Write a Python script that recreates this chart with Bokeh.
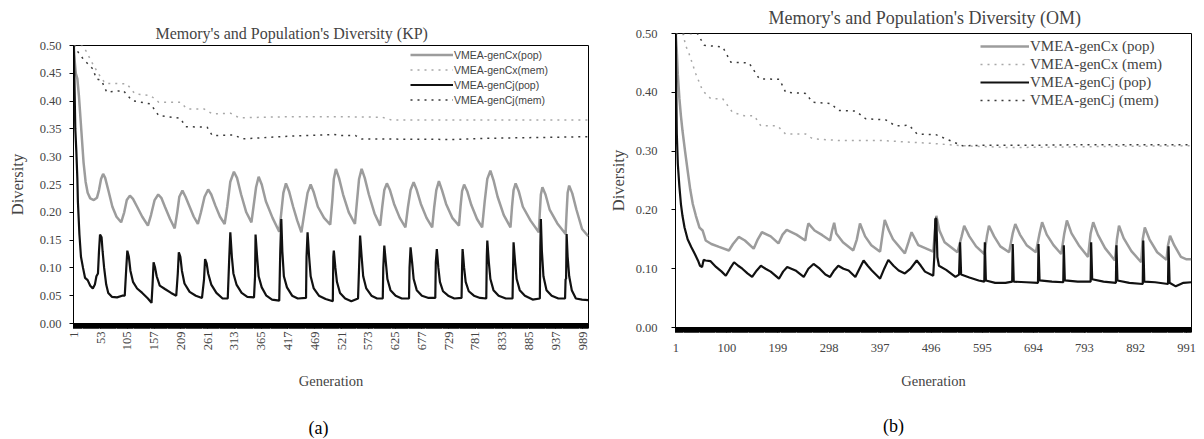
from bokeh.plotting import figure
from bokeh.layouts import row, column
from bokeh.models import Range1d, FixedTicker, NumeralTickFormatter, Legend, LegendItem, Label
from bokeh.embed import file_html
from bokeh.resources import INLINE

# ---------------- Panel (a): KP ----------------
a_title = "Memory's and Population's Diversity (KP)"
a_xticks = [1, 53, 105, 157, 209, 261, 313, 365, 417, 469, 521, 573, 625, 677, 729, 781, 833, 885, 937, 989]
a_yticks = [0.0, 0.05, 0.10, 0.15, 0.20, 0.25, 0.30, 0.35, 0.40, 0.45, 0.50]

a_cx_pop_gen = [1, 3, 5, 8, 11, 14, 17, 20, 24, 28, 33, 40, 46, 50, 54, 58, 62, 68, 76, 84, 93,
                99, 104, 110, 116, 124, 134, 145,
                151, 158, 165, 171, 178, 188, 197,
                202, 206, 212, 218, 226, 234, 242,
                248, 255, 262, 268, 276, 285, 294,
                299, 305, 312, 318, 326, 336, 346,
                350, 355, 360, 366, 374, 387, 400,
                404, 408, 413, 419, 427, 435, 443,
                449, 455, 461, 467, 475, 487, 499,
                503, 506, 510, 516, 524, 535, 547,
                551, 555, 560, 566, 574, 585, 596,
                600, 604, 609, 615, 623, 634, 645,
                650, 655, 661, 667, 675, 686, 697,
                701, 705, 710, 716, 724, 736, 749,
                752, 755, 759, 765, 773, 784, 794,
                799, 804, 810, 816, 824, 836, 849,
                852, 855, 859, 865, 873, 888, 904,
                906, 908, 911, 917, 925, 940, 956,
                958, 960, 963, 969, 977, 988, 1000]
a_cx_pop = [0.50, 0.47, 0.45, 0.44, 0.41, 0.37, 0.33, 0.29, 0.255, 0.235, 0.225, 0.222, 0.226, 0.24, 0.26, 0.269, 0.262, 0.24, 0.21, 0.192, 0.182,
            0.20, 0.222, 0.230, 0.224, 0.21, 0.192, 0.176,
            0.195, 0.222, 0.232, 0.226, 0.21, 0.188, 0.171,
            0.20, 0.228, 0.239, 0.228, 0.21, 0.192, 0.179,
            0.20, 0.228, 0.241, 0.232, 0.212, 0.192, 0.179,
            0.21, 0.255, 0.273, 0.262, 0.232, 0.20, 0.182,
            0.21, 0.245, 0.264, 0.25, 0.22, 0.19, 0.165,
            0.20, 0.235, 0.252, 0.238, 0.21, 0.185, 0.164,
            0.20, 0.235, 0.25, 0.236, 0.21, 0.19, 0.178,
            0.22, 0.26, 0.278, 0.262, 0.232, 0.20, 0.179,
            0.22, 0.26, 0.278, 0.262, 0.232, 0.198, 0.176,
            0.21, 0.24, 0.252, 0.24, 0.215, 0.19, 0.173,
            0.21, 0.24, 0.254, 0.24, 0.215, 0.19, 0.173,
            0.21, 0.24, 0.256, 0.24, 0.215, 0.19, 0.176,
            0.21, 0.238, 0.25, 0.238, 0.213, 0.188, 0.173,
            0.22, 0.26, 0.275, 0.258, 0.228, 0.195, 0.173,
            0.21, 0.24, 0.252, 0.238, 0.21, 0.185, 0.164,
            0.20, 0.232, 0.245, 0.232, 0.205, 0.18, 0.161,
            0.20, 0.235, 0.248, 0.234, 0.205, 0.17, 0.157]

a_cj_pop_gen = [1, 3, 4, 6, 8, 9, 12, 15, 19, 23, 28, 33, 38, 42, 45, 48, 50, 52, 55, 57, 60, 64, 68, 75, 85, 95,
                100, 103, 105, 108, 111, 116, 124, 134, 145, 152,
                154, 156, 159, 162, 168, 178, 190, 200,
                203, 205, 208, 211, 216, 226, 238, 250,
                254, 256, 259, 262, 268, 278, 290, 300,
                303, 305, 308, 311, 317, 327, 338, 351,
                353, 354, 357, 360, 366, 375, 386, 400,
                402, 404, 406, 409, 415, 425, 436, 452,
                453, 455, 458, 461, 467, 477, 490, 504,
                505, 506, 509, 512, 518, 528, 540, 553,
                555, 557, 560, 563, 569, 579, 590, 601,
                602, 604, 607, 610, 616, 626, 638, 652,
                653, 655, 658, 661, 667, 677, 690, 703,
                704, 706, 709, 712, 718, 728, 740, 754,
                755, 756, 759, 762, 768, 778, 790, 802,
                803, 804, 807, 810, 816, 826, 840, 853,
                854, 855, 858, 861, 867, 877, 892, 906,
                907, 908, 910, 913, 919, 929, 942, 955,
                956, 957, 958, 960, 963, 968, 976, 988, 1000]
a_cj_pop = [0.50, 0.40, 0.35, 0.31, 0.26, 0.22, 0.16, 0.12, 0.10, 0.082, 0.078, 0.068, 0.063, 0.07, 0.085, 0.09, 0.13, 0.16, 0.155, 0.13, 0.10, 0.07, 0.055, 0.048, 0.047, 0.05,
            0.05, 0.10, 0.131, 0.12, 0.095, 0.075, 0.063, 0.055, 0.045, 0.037,
            0.07, 0.110, 0.10, 0.085, 0.068, 0.062, 0.055, 0.05,
            0.09, 0.128, 0.12, 0.095, 0.072, 0.057, 0.05, 0.046,
            0.08, 0.116, 0.108, 0.09, 0.07, 0.055, 0.045, 0.045,
            0.12, 0.164, 0.12, 0.09, 0.07, 0.055, 0.048, 0.047,
            0.085, 0.160, 0.12, 0.085, 0.065, 0.05, 0.043, 0.041,
            0.13, 0.188, 0.13, 0.085, 0.065, 0.05, 0.045, 0.046,
            0.12, 0.164, 0.12, 0.085, 0.063, 0.05, 0.044, 0.04,
            0.12, 0.131, 0.10, 0.075, 0.055, 0.045, 0.04, 0.045,
            0.10, 0.158, 0.12, 0.085, 0.063, 0.05, 0.045, 0.045,
            0.10, 0.140, 0.11, 0.08, 0.06, 0.05, 0.045, 0.045,
            0.10, 0.137, 0.11, 0.08, 0.06, 0.05, 0.046, 0.046,
            0.11, 0.134, 0.10, 0.075, 0.058, 0.05, 0.045, 0.046,
            0.10, 0.134, 0.10, 0.075, 0.058, 0.05, 0.046, 0.045,
            0.12, 0.149, 0.11, 0.08, 0.06, 0.05, 0.045, 0.045,
            0.10, 0.146, 0.11, 0.08, 0.06, 0.05, 0.043, 0.045,
            0.14, 0.188, 0.13, 0.085, 0.06, 0.05, 0.045, 0.045,
            0.08, 0.08, 0.161, 0.12, 0.085, 0.06, 0.045, 0.043, 0.042]

a_cx_mem_gen = [1, 18, 25, 36, 49, 62, 104, 120, 150, 166, 208, 221, 254, 270, 306, 322, 420, 506, 600, 618, 1000]
a_cx_mem = [0.50, 0.50, 0.49, 0.47, 0.449, 0.432, 0.431, 0.413, 0.41, 0.398, 0.398, 0.386, 0.386, 0.377, 0.378, 0.37, 0.372, 0.372, 0.371, 0.366, 0.366]

a_cj_mem_gen = [1, 8, 20, 38, 45, 55, 65, 97, 114, 150, 166, 208, 218, 260, 270, 312, 329, 420, 506, 520, 548, 560, 740, 800, 1000]
a_cj_mem = [0.50, 0.49, 0.475, 0.458, 0.44, 0.437, 0.416, 0.419, 0.401, 0.395, 0.374, 0.369, 0.354, 0.353, 0.338, 0.339, 0.332, 0.337, 0.34, 0.338, 0.338, 0.332, 0.331, 0.333, 0.336]

a_labels = ["VMEA-genCx(pop)", "VMEA-genCx(mem)", "VMEA-genCj(pop)", "VMEA-genCj(mem)"]

# ---------------- Panel (b): OM ----------------
b_title = "Memory's and Population's Diversity (OM)"
b_xticks = [1, 100, 199, 298, 397, 496, 595, 694, 793, 892, 991]
b_yticks = [0.0, 0.10, 0.20, 0.30, 0.40, 0.50]

b_cx_pop_gen = [1, 3, 5, 8, 11, 14, 19, 24, 29, 34, 40, 47, 53, 59, 70, 85, 104, 112, 123, 135, 152, 160, 168, 185, 200,
                208, 216, 235, 252, 255, 258, 270, 285, 300, 304, 308, 312, 325, 345, 352, 358, 368, 380, 397,
                402, 406, 414, 422, 445, 452, 458, 471, 500, 503, 506, 512, 522, 547, 555, 560, 570, 583, 599,
                604, 608, 618, 630, 647, 654, 659, 668, 681, 699, 706, 711, 720, 733, 748, 754, 759, 768, 782,
                800, 805, 810, 819, 833, 852, 856, 860, 869, 884, 903, 906, 910, 919, 934, 952, 955, 959, 967,
                980, 991, 1000]
b_cx_pop = [0.50, 0.47, 0.43, 0.39, 0.36, 0.335, 0.30, 0.267, 0.235, 0.21, 0.19, 0.17, 0.165, 0.148, 0.142, 0.137, 0.131, 0.142, 0.154, 0.148, 0.134, 0.15, 0.162, 0.155, 0.143,
            0.158, 0.166, 0.158, 0.148, 0.165, 0.177, 0.165, 0.157, 0.148, 0.165, 0.178, 0.16, 0.145, 0.131, 0.15, 0.177, 0.155, 0.14, 0.129,
            0.16, 0.183, 0.165, 0.15, 0.126, 0.145, 0.162, 0.14, 0.129, 0.16, 0.19, 0.165, 0.145, 0.128, 0.155, 0.173, 0.155, 0.138, 0.125,
            0.155, 0.173, 0.155, 0.138, 0.128, 0.16, 0.176, 0.158, 0.14, 0.128, 0.16, 0.179, 0.158, 0.14, 0.125, 0.16, 0.182, 0.16, 0.14,
            0.12, 0.16, 0.179, 0.158, 0.135, 0.114, 0.15, 0.173, 0.152, 0.13, 0.111, 0.15, 0.17, 0.15, 0.128, 0.115, 0.14, 0.156, 0.14,
            0.12, 0.116, 0.116]

b_cj_pop_gen = [1, 2, 3, 5, 8, 11, 14, 18, 24, 31, 38, 44, 48, 52, 55, 59, 68, 79, 90, 98, 106, 114, 122, 130, 140, 149,
                158, 166, 175, 185, 201, 209, 217, 225, 233, 249, 258, 268, 280, 291, 300, 308, 316, 326, 336, 349,
                357, 365, 373, 381, 397, 405, 413, 423, 433, 445, 456, 468, 476, 484, 500, 502, 504, 506, 508, 511,
                525, 543, 550, 552, 554, 570, 588, 599, 600, 602, 620, 640, 653, 654, 656, 680, 703, 704, 706, 730,
                752, 753, 755, 780, 805, 806, 808, 830, 854, 855, 857, 880, 906, 907, 909, 930, 955, 956, 958, 970,
                985, 1000]
b_cj_pop = [0.50, 0.40, 0.33, 0.278, 0.24, 0.21, 0.19, 0.17, 0.15, 0.137, 0.125, 0.114, 0.105, 0.103, 0.115, 0.114, 0.113, 0.103, 0.095, 0.088, 0.10, 0.111, 0.105, 0.10, 0.092, 0.086,
            0.097, 0.105, 0.10, 0.095, 0.083, 0.095, 0.103, 0.10, 0.097, 0.086, 0.10, 0.108, 0.10, 0.09, 0.086, 0.097, 0.105, 0.10, 0.097, 0.086,
            0.10, 0.114, 0.105, 0.097, 0.083, 0.10, 0.115, 0.105, 0.097, 0.092, 0.10, 0.114, 0.105, 0.095, 0.088, 0.12, 0.185, 0.185, 0.12, 0.105,
            0.098, 0.086, 0.09, 0.145, 0.09, 0.085, 0.08, 0.078, 0.145, 0.08, 0.076, 0.076, 0.078, 0.142, 0.078, 0.077, 0.076, 0.142, 0.08, 0.078,
            0.077, 0.14, 0.08, 0.078, 0.078, 0.145, 0.082, 0.078, 0.076, 0.14, 0.08, 0.076, 0.074, 0.148, 0.078, 0.077, 0.074, 0.138, 0.076, 0.07,
            0.076, 0.077]

b_cx_mem_gen = [1, 15, 20, 27, 40, 53, 69, 92, 111, 134, 153, 166, 198, 214, 253, 266, 317, 400, 498, 560, 650, 750, 850, 1000]
b_cx_mem = [0.50, 0.50, 0.48, 0.465, 0.431, 0.403, 0.389, 0.389, 0.366, 0.36, 0.36, 0.343, 0.343, 0.329, 0.329, 0.321, 0.318, 0.318, 0.313, 0.309, 0.306, 0.307, 0.308, 0.309]

b_cj_mem_gen = [1, 43, 56, 92, 108, 143, 163, 202, 214, 253, 266, 301, 317, 350, 369, 408, 427, 453, 469, 505, 524, 557, 600, 700, 800, 1000]
b_cj_mem = [0.50, 0.50, 0.48, 0.477, 0.451, 0.45, 0.423, 0.422, 0.40, 0.398, 0.383, 0.381, 0.369, 0.368, 0.355, 0.353, 0.343, 0.344, 0.329, 0.328, 0.321, 0.309, 0.31, 0.31, 0.311, 0.311]

b_labels = ["VMEA-genCx (pop)", "VMEA-genCx (mem)", "VMEA-genCj (pop)", "VMEA-genCj (mem)"]

# panel captions
captions = ["(a)", "(b)"]

SERIF = "Liberation Serif"
SANS = "Liberation Sans"


def make_panel(width, height, left, right, title, title_size, title_offset, title_standoff,
               xticks, xorient, yticks, series, labels, leg_font, leg_size, leg_row, leg_glyph, leg_loc,
               ylab_standoff, ytick_standoff, xlab_standoff, xtick_standoff):
    p = figure(width=width, height=height, output_backend="svg", toolbar_location=None,
               x_range=Range1d(0.5, 1000.5), y_range=Range1d(0, 0.5),
               min_border_left=left, min_border_right=right, min_border_top=33, min_border_bottom=73)
    p.background_fill_color = "white"
    p.border_fill_color = "white"
    p.outline_line_color = "black"
    p.outline_line_width = 1
    p.xgrid.visible = False
    p.ygrid.visible = False

    p.title.text = title
    p.title.align = "left"
    p.title.offset = title_offset
    p.title.text_font = SERIF
    p.title.text_font_size = title_size
    p.title.text_font_style = "normal"
    p.title.standoff = title_standoff

    xa = p.xaxis[0]
    xa.ticker = FixedTicker(ticks=xticks, minor_ticks=list(range(1, 1001)))
    xa.major_label_orientation = xorient
    xa.major_tick_out = 5
    xa.major_tick_in = 0
    xa.minor_tick_out = 5
    xa.minor_tick_in = 0
    xa.minor_tick_line_color = "black"
    xa.axis_line_color = "black"
    xa.major_label_text_font = SERIF
    xa.major_label_text_font_size = "12.5px"
    xa.major_label_standoff = xtick_standoff
    xa.axis_label = "Generation"
    xa.axis_label_text_font = SERIF
    xa.axis_label_text_font_style = "normal"
    xa.axis_label_text_font_size = "14.5px"
    xa.axis_label_standoff = xlab_standoff

    ya = p.yaxis[0]
    ya.ticker = FixedTicker(ticks=yticks, minor_ticks=[])
    ya.formatter = NumeralTickFormatter(format="0.00")
    ya.major_tick_out = 4
    ya.major_tick_in = 0
    ya.axis_line_color = "black"
    ya.major_label_text_font = SERIF
    ya.major_label_text_font_size = "12.5px"
    ya.major_label_standoff = ytick_standoff
    ya.axis_label = "Diversity"
    ya.axis_label_text_font = SERIF
    ya.axis_label_text_font_style = "normal"
    ya.axis_label_text_font_size = "16.5px"
    ya.axis_label_standoff = ylab_standoff

    (cxp_g, cxp), (cxm_g, cxm), (cjp_g, cjp), (cjm_g, cjm) = series
    r_cxm = p.line(cxm_g, cxm, line_color="#a8a8a8", line_width=1.5, line_dash="2 5")
    r_cjm = p.line(cjm_g, cjm, line_color="#3a3a3a", line_width=1.5, line_dash="2 5")
    r_cxp = p.line(cxp_g, cxp, line_color="#9c9c9c", line_width=2.5)
    r_cjp = p.line(cjp_g, cjp, line_color="#111111", line_width=2.2)

    items = [LegendItem(label=labels[0], renderers=[r_cxp]),
             LegendItem(label=labels[1], renderers=[r_cxm]),
             LegendItem(label=labels[2], renderers=[r_cjp]),
             LegendItem(label=labels[3], renderers=[r_cjm])]
    leg = Legend(items=items, location=leg_loc, orientation="vertical")
    leg.background_fill_alpha = 0
    leg.border_line_alpha = 0
    leg.padding = 0
    leg.margin = 0
    leg.spacing = 0
    leg.glyph_width = leg_glyph
    leg.glyph_height = leg_row
    leg.label_height = leg_row
    leg.label_standoff = 1
    leg.label_text_font = leg_font
    leg.label_text_font_size = leg_size
    p.add_layout(leg)
    return p


pa = make_panel(600, 384, 73, 12, a_title, "16px", 82, 8,
                a_xticks, 1.5708, a_yticks,
                [(a_cx_pop_gen, a_cx_pop), (a_cx_mem_gen, a_cx_mem), (a_cj_pop_gen, a_cj_pop), (a_cj_mem_gen, a_cj_mem)],
                a_labels, SANS, "10.5px", 15, 43, (337, 216),
                10, 8, 20, 3)
pa.margin = (12, 0, 0, 0)
pb = make_panel(604, 400, 75, 13, b_title, "18px", 93, 11,
                b_xticks, "horizontal", b_yticks,
                [(b_cx_pop_gen, b_cx_pop), (b_cx_mem_gen, b_cx_mem), (b_cj_pop_gen, b_cj_pop), (b_cj_mem_gen, b_cj_mem)],
                b_labels, SERIF, "15px", 18, 49, (305, 218),
                5, 14, 18, 11)

# caption strip under both panels (pixel-based ranges)
pc = figure(width=1204, height=39, output_backend="svg", toolbar_location=None,
            x_range=Range1d(0, 1204), y_range=Range1d(0, 39), min_border=0)
pc.axis.visible = False
pc.grid.visible = False
pc.outline_line_color = None
pc.background_fill_color = "white"
pc.border_fill_color = "white"
pc.add_layout(Label(x=318, y=12, text=captions[0], text_align="center", text_baseline="middle",
                    text_font=SERIF, text_font_size="18px", text_color="black"))
pc.add_layout(Label(x=893, y=14, text=captions[1], text_align="center", text_baseline="middle",
                    text_font=SERIF, text_font_size="18px", text_color="black"))

layout = column(row(pa, pb), pc)
open("out.html", "w").write(file_html(layout, INLINE))
